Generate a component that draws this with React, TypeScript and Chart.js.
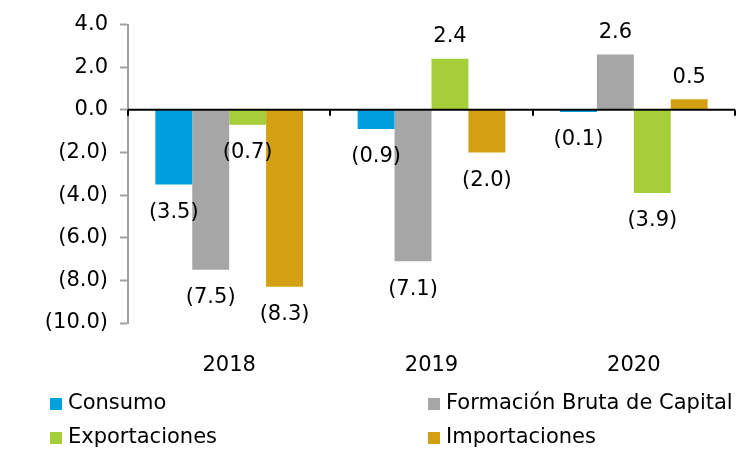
import React, { useEffect, useRef } from "react";
import { Chart, registerables } from "chart.js";
Chart.register(...registerables);

const categories = ["2018", "2019", "2020"];
const seriesNames = ["Consumo", "Formación Bruta de Capital", "Exportaciones", "Importaciones"];
const consumo = [-3.5, -0.9, -0.1];
const formacion = [-7.5, -7.1, 2.6];
const exportaciones = [-0.7, 2.4, -3.9];
const importaciones = [-8.3, -2.0, 0.5];
const yMin = -10;
const yMax = 4;
const yStep = 2;

const colors = ["#00A0DE", "#A6A6A6", "#A6CE39", "#D4A013"];
const FONT = "DejaVu Sans";
const FS = 21;

const fmt = (v: number) => (v < 0 ? `(${Math.abs(v).toFixed(1)})` : v.toFixed(1));

const extrasPlugin = {
  id: "extras",
  afterDatasetsDraw(chart: any) {
    const ctx = chart.ctx;
    const area = chart.chartArea;
    const xs = chart.scales.x;
    const ys = chart.scales.y;
    const y0 = ys.getPixelForValue(0);
    ctx.save();
    // zero line
    ctx.strokeStyle = "#000";
    ctx.lineWidth = 2;
    ctx.beginPath();
    ctx.moveTo(area.left, y0);
    ctx.lineTo(area.right, y0);
    // category boundary ticks
    const n = categories.length;
    const w = (area.right - area.left) / n;
    for (let i = 0; i <= n; i++) {
      const x = Math.round(area.left + i * w);
      ctx.moveTo(x, y0);
      ctx.lineTo(x, y0 + 6);
    }
    ctx.stroke();
    // data labels
    ctx.font = `${FS}px "${FONT}"`;
    ctx.fillStyle = "#000";
    ctx.textAlign = "center";
    ctx.textBaseline = "middle";
    chart.data.datasets.forEach((ds: any, di: number) => {
      const meta = chart.getDatasetMeta(di);
      meta.data.forEach((bar: any, i: number) => {
        const v = ds.data[i];
        const y = v < 0 ? bar.y + 28 : bar.y - 22;
        ctx.fillText(fmt(v), bar.x, y);
      });
    });
    // legend (2 columns)
    const colX = [50, 428];
    const rowY = [404, 438];
    chart.data.datasets.forEach((ds: any, di: number) => {
      const cx = colX[di % 2];
      const cy = rowY[Math.floor(di / 2)];
      ctx.fillStyle = ds.backgroundColor;
      ctx.fillRect(cx, cy - 6, 12, 12);
      ctx.fillStyle = "#000";
      ctx.textAlign = "left";
      ctx.fillText(ds.label, cx + 18, cy);
    });
    ctx.restore();
  },
};

export default function App() {
  const ref = useRef<HTMLCanvasElement>(null);
  useEffect(() => {
    if (!ref.current) return;
    const series = [consumo, formacion, exportaciones, importaciones];
    const chart = new Chart(ref.current, {
      type: "bar",
      data: {
        labels: categories,
        datasets: series.map((d, i) => ({
          label: seriesNames[i],
          data: d,
          backgroundColor: colors[i],
          borderWidth: 0,
          barPercentage: 1,
          categoryPercentage: 0.73,
        })),
      },
      options: {
        animation: false,
        responsive: false,
        maintainAspectRatio: false,
        layout: { padding: { left: 0, right: 6, top: 24, bottom: 0 } },
        plugins: { legend: { display: false }, tooltip: { enabled: false }, title: { display: false } },
        scales: {
          x: {
            grid: { display: false },
            border: { display: false },
            ticks: { color: "#000", font: { family: FONT, size: FS }, padding: 22 },
            afterFit: (s: any) => {
              s.height = 128;
            },
          },
          y: {
            min: yMin,
            max: yMax,
            ticks: {
              stepSize: yStep,
              color: "#000",
              font: { family: FONT, size: FS },
              padding: 12,
              callback: (v: any) => fmt(Number(v)),
            },
            grid: {
              drawOnChartArea: false,
              drawTicks: true,
              tickLength: 8,
              tickWidth: 2,
              tickColor: "#A0A0A0",
            },
            border: { display: true, color: "#A0A0A0", width: 2 },
            afterFit: (s: any) => {
              s.width = 128;
            },
          },
        },
      },
      plugins: [extrasPlugin],
    });
    return () => chart.destroy();
  }, []);
  return (
    <div style={{ position: "absolute", left: 0, top: 0, width: 741, height: 451, background: "#fff" }}>
      <canvas ref={ref} width={741} height={451} style={{ display: "block" }} />
    </div>
  );
}
